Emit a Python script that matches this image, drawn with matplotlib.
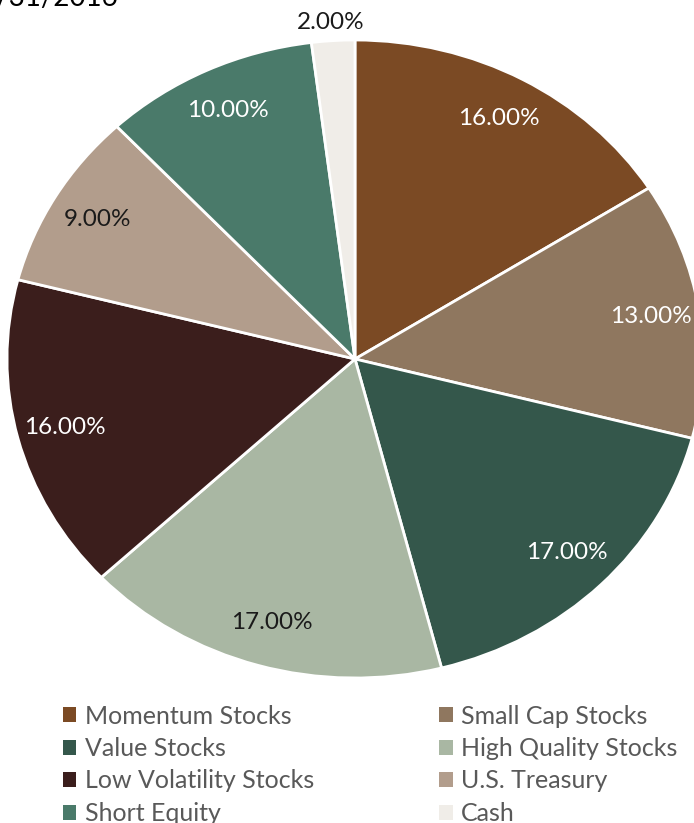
import matplotlib
matplotlib.use("Agg")
import matplotlib.pyplot as plt
from matplotlib.patches import Patch

plt.rcParams['font.family'] = ['Lato', 'DejaVu Sans']

# data
labels = ["Momentum Stocks", "Small Cap Stocks", "Value Stocks", "High Quality Stocks",
          "Low Volatility Stocks", "U.S. Treasury", "Short Equity", "Cash"]
weights = [16, 13, 17, 17, 16, 9, 10, 2]
colors = ["#7B4A24", "#8F775F", "#34574B", "#A9B7A3",
          "#3B1E1C", "#B29D8C", "#4A7A6A", "#F0EDE8"]
label_colors = ["white", "white", "white", "#1a1a1a", "white", "#1a1a1a", "white", "#1a1a1a"]
date_text = "10/31/2016"

W, H = 694, 823
fig = plt.figure(figsize=(W / 100, H / 100), dpi=100)
ax = fig.add_axes([0, 0, 1, 1])

wedges, texts, autotexts = ax.pie(
    weights, colors=colors, startangle=90, counterclock=False,
    autopct='%.2f%%', pctdistance=0.86,
    wedgeprops=dict(edgecolor='white', linewidth=2))

for t, c in zip(autotexts, label_colors):
    t.set_color(c)
    t.set_fontsize(17.5)

# cash label sits outside the pie
autotexts[-1].set_position((-0.07, 1.056))

# pie is slightly stretched horizontally in the reference (rx 348px, ry 319px)
ax.set_aspect('auto')
cx, cy, rx, ry = 355, 359, 348, 319
ax.set_xlim(-cx / rx, (W - cx) / rx)
ax.set_ylim((cy - H) / ry, cy / ry)
ax.axis('off')

order = [0, 2, 4, 6, 1, 3, 5, 7]
handles = [Patch(facecolor=colors[i], edgecolor='none') for i in order]
fig.legend(handles, [labels[i] for i in order], ncol=2,
           loc='upper left', bbox_to_anchor=(50 / W, 1 - 692 / H),
           frameon=False, fontsize=18, labelcolor='#595959',
           handlelength=0.55, handleheight=0.55, handletextpad=0.35,
           columnspacing=4.98, labelspacing=0.38, borderpad=0)

fig.text(118 / W, 1 - 6 / H, date_text, ha='right', va='baseline', fontsize=20, color='black')

fig.savefig("out.png", dpi=100)
